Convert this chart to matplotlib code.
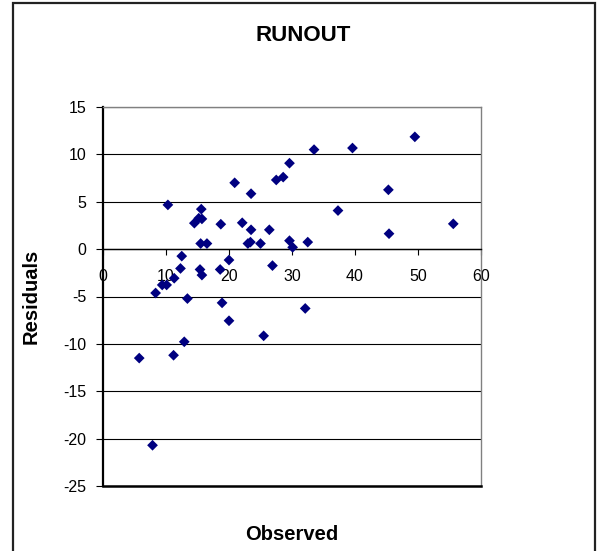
import matplotlib
matplotlib.use("Agg")
import matplotlib.pyplot as plt
from matplotlib.patches import Rectangle

plt.rcParams['font.family'] = ['Liberation Sans', 'DejaVu Sans']

title = "RUNOUT"
xlabel = "Observed"
ylabel = "Residuals"

observed = [10.3, 15.6, 14.5, 15.2, 15.7, 18.7, 20.9, 23.5, 22.1, 23.5,
            23.0, 23.4, 25.0, 26.4, 27.5, 28.6, 29.6, 33.5, 39.6, 49.5,
            45.3, 37.3, 45.4, 55.6, 29.6, 30.1, 32.5, 15.5, 16.5, 12.5,
            20.0, 12.3, 15.4, 15.7, 18.6, 26.9, 11.3, 9.4, 10.1, 8.35,
            13.4, 18.9, 20.0, 32.1, 25.5, 12.9, 11.2, 5.75, 7.86]
residuals = [4.67, 4.22, 2.74, 3.26, 3.19, 2.63, 7.0, 5.85, 2.78, 2.04,
             0.59, 0.74, 0.59, 2.04, 7.3, 7.6, 9.07, 10.5, 10.67, 11.85,
             6.26, 4.07, 1.63, 2.67, 0.89, 0.19, 0.74, 0.59, 0.59, -0.74,
             -1.15, -2.04, -2.15, -2.74, -2.15, -1.74, -3.07, -3.78, -3.78, -4.63,
             -5.22, -5.67, -7.56, -6.26, -9.15, -9.78, -11.2, -11.5, -20.7]

xticks = [0, 10, 20, 30, 40, 50, 60]
yticks = [15, 10, 5, 0, -5, -10, -15, -20, -25]

fig = plt.figure(figsize=(5.97, 5.51), dpi=100)
# outer chart border
fig.patches.append(Rectangle((13/597, -0.05), (595-13)/597, 1.05 - 3/551,
                             transform=fig.transFigure, fill=False,
                             edgecolor='#222222', linewidth=1.6))

ax = fig.add_axes([103/597, 1 - 486/551, 378/597, 379/551])
ax.set_xlim(0, 60)
ax.set_ylim(-25, 15)
ax.set_xticks(xticks)
ax.set_yticks(yticks)
ax.set_xticklabels([str(v) for v in xticks])
ax.set_yticklabels([str(v) for v in yticks])

for v in yticks:
    ax.axhline(v, color='black', linewidth=0.8, zorder=1)

ax.scatter(observed, residuals, marker='D', s=30, color='#000080',
           edgecolors='none', zorder=3)

ax.spines['bottom'].set_position(('data', 0))
ax.spines['bottom'].set_linewidth(1.0)
ax.spines['bottom'].set_color('black')
ax.spines['left'].set_linewidth(1.6)
ax.spines['left'].set_color('black')
ax.spines['top'].set_color('#808080')
ax.spines['top'].set_linewidth(1.0)
ax.spines['right'].set_color('#808080')
ax.spines['right'].set_linewidth(1.0)
ax.plot([0, 60], [-25, -25], color='black', linewidth=1.8, zorder=4, clip_on=False)

ax.tick_params(axis='x', direction='out', length=4, width=0.8, pad=10, labelsize=11.5)
ax.tick_params(axis='y', direction='out', length=5, width=0.8, pad=7, labelsize=11.5)

fig.text(303/597, 1 - 35.5/551, title, ha='center', va='center',
         fontsize=16, fontweight='bold')
fig.text(31/597, 1 - 296/551, ylabel, ha='center', va='center',
         rotation=90, fontsize=14.5, fontweight='bold')
fig.text(292/597, 1 - 535/551, xlabel, ha='center', va='center',
         fontsize=14.5, fontweight='bold')

fig.savefig('out.png', dpi=100)
